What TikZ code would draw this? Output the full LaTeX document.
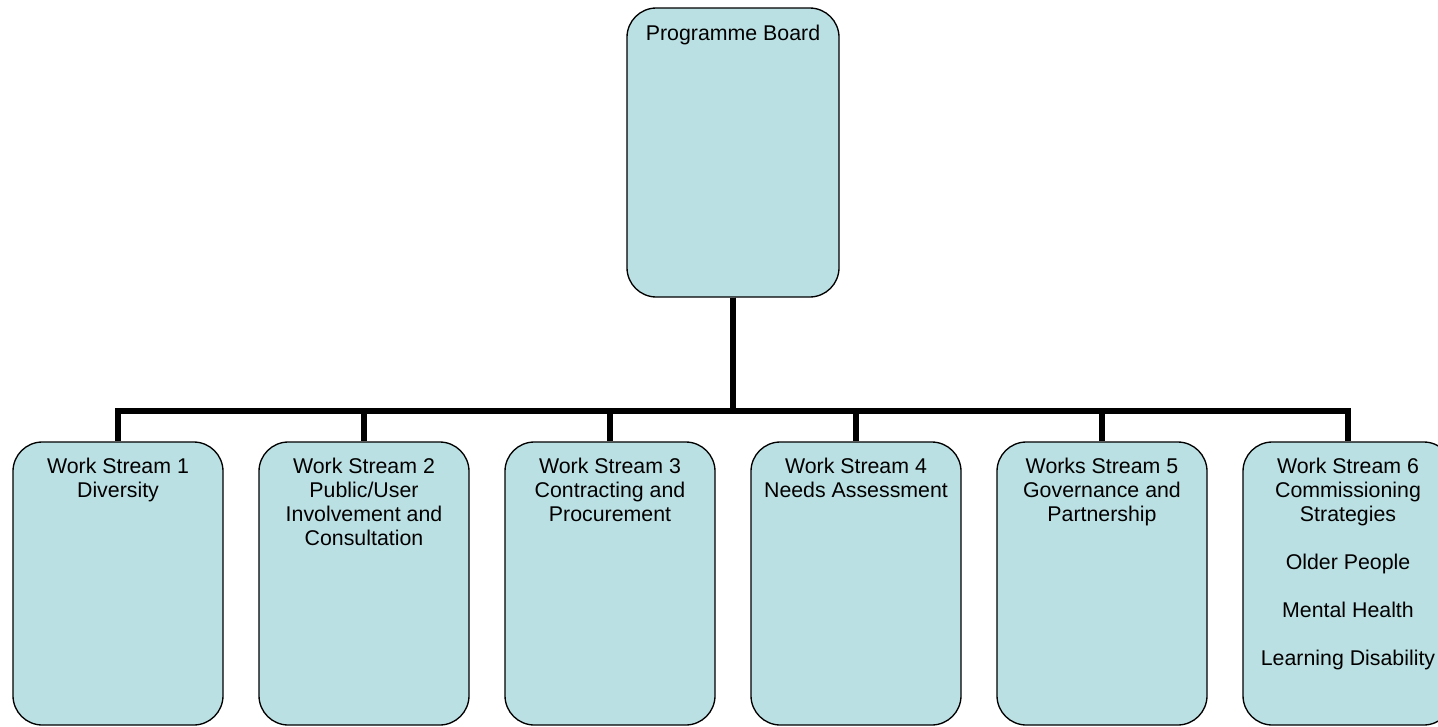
\documentclass[tikz,border=0pt]{standalone}
\usepackage{fontspec}
\setmainfont{Liberation Sans}
\definecolor{boxfill}{RGB}{187,224,227}
\newcommand{\boxtext}[1]{\fontsize{16pt}{18pt}\selectfont\begin{tabular}[t]{@{}c@{}}#1\end{tabular}}
\begin{document}
\begin{tikzpicture}[x=0.75pt,y=-0.75pt,
  box/.style={draw=black, line width=1pt, fill=boxfill, rounded corners=22pt, inner sep=0pt, minimum width=157.5pt},
  lbl/.style={anchor=base, inner sep=0pt},
  conn/.style={draw=black, line width=4.5pt, line join=miter}]
\useasboundingbox (0,0) rectangle (1438,726);
\clip (0,0) rectangle (1438,726);
% top box
\node[box, minimum width=159pt, minimum height=216.75pt] (top) at (733,152.5) {};
\node[lbl] (ttop) at (733,40) {\boxtext{Programme Board}};
% bottom boxes
\node[box, minimum height=212.25pt] (b1) at (118,583.5) {};
\node[box, minimum height=212.25pt] (b2) at (364,583.5) {};
\node[box, minimum height=212.25pt] (b3) at (610,583.5) {};
\node[box, minimum height=212.25pt] (b4) at (856,583.5) {};
\node[box, minimum height=212.25pt] (b5) at (1102,583.5) {};
\node[box, minimum height=212.25pt] (b6) at (1348,583.5) {};
\node[lbl] (t1) at (118,473) {\boxtext{Work Stream 1\\Diversity}};
\node[lbl] (t2) at (364,473) {\boxtext{Work Stream 2\\Public/User\\Involvement and\\Consultation}};
\node[lbl] (t3) at (610,473) {\boxtext{Work Stream 3\\Contracting and\\Procurement}};
\node[lbl] (t4) at (856,473) {\boxtext{Work Stream 4\\Needs Assessment}};
\node[lbl] (t5) at (1102,473) {\boxtext{Works Stream 5\\Governance and\\Partnership}};
\node[lbl] (t6) at (1348,473) {\boxtext{Work Stream 6\\Commissioning\\Strategies\\[18pt]Older People\\[18pt]Mental Health\\[18pt]Learning Disability}};
% connectors
\coordinate (hub) at (733,411);
\foreach \b in {b1,b2,b3,b4,b5,b6}{
  \draw[conn] (top.south) -- (hub) -| (\b.north);
}
\end{tikzpicture}
\end{document}
